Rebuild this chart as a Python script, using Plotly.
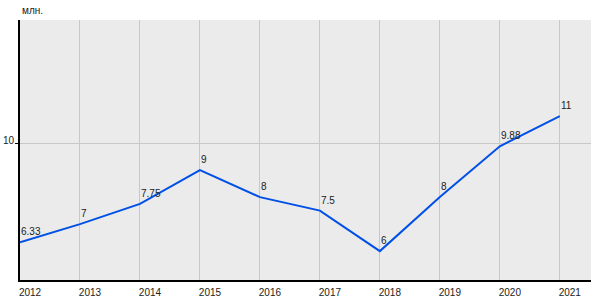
import plotly.graph_objects as go

years = [2012, 2013, 2014, 2015, 2016, 2017, 2018, 2019, 2020, 2021]
values = [6.33, 7, 7.75, 9, 8, 7.5, 6, 8, 9.88, 11]
labels = ["6.33", "7", "7.75", "9", "8", "7.5", "6", "8", "9.88", "11"]
y_ticks = [10]
unit = "млн."

FONT = "Liberation Sans, Arial, sans-serif"

fig = go.Figure()
fig.add_trace(go.Scatter(
    x=years, y=values, mode="lines",
    line=dict(color="#0050e6", width=2),
    hoverinfo="skip", showlegend=False,
))

for x, y, t in zip(years, values, labels):
    fig.add_annotation(
        x=x, y=y, text=t, showarrow=False,
        xanchor="left", yanchor="bottom", yshift=3, xshift=-1,
        font=dict(family=FONT, size=10, color="#222"),
    )

for v in y_ticks:
    fig.add_annotation(
        x=0, xref="paper", y=v, text=str(v), showarrow=False,
        xanchor="right", yanchor="middle", xshift=-3, yshift=3,
        font=dict(family=FONT, size=10, color="#222"),
    )

fig.add_annotation(
    x=0, y=1, xref="paper", yref="paper", text=unit, showarrow=False,
    xanchor="left", yanchor="bottom", yshift=2,
    font=dict(family=FONT, size=10, color="#222"),
)

fig.update_layout(
    width=600, height=300,
    margin=dict(l=20, r=9, t=20, b=20, autoexpand=False),
    paper_bgcolor="white", plot_bgcolor="#ebebeb",
    font=dict(family=FONT, size=10, color="#222"),
    xaxis=dict(
        range=[2012, 2021.52], tickmode="array", tickvals=years,
        ticktext=[str(y) for y in years],
        showgrid=True, gridcolor="#c8c8c8", gridwidth=1,
        showline=True, linecolor="black", linewidth=1.5,
        ticks="", zeroline=False, ticklabelshift=10, ticklabelstandoff=2,
        automargin=False,
    ),
    yaxis=dict(
        range=[4.93, 14.56], tickmode="array", tickvals=y_ticks,
        showticklabels=False,
        showgrid=True, gridcolor="#c8c8c8", gridwidth=1,
        showline=True, linecolor="black", linewidth=1.5,
        ticks="outside", ticklen=3, tickcolor="black",
        zeroline=False, automargin=False,
    ),
)

fig.write_html("out.html")
